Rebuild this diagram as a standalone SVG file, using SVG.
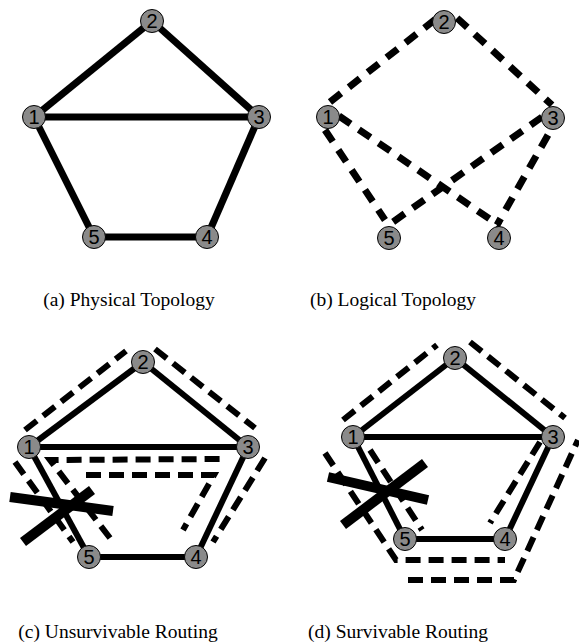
<svg xmlns="http://www.w3.org/2000/svg" width="579" height="644" viewBox="0 0 579 644">
<style>
.n circle{fill:#8a8a8a;stroke:#000;stroke-width:1}
.n text{font-family:"Liberation Sans",Arial,sans-serif;font-size:20px;fill:#000;text-anchor:middle}
.sa{stroke:#000;stroke-width:7;fill:none}
.sc{stroke:#000;stroke-width:6;fill:none}
.db{stroke:#000;stroke-width:7;fill:none;stroke-dasharray:14 10}
.dc{stroke:#000;stroke-width:6;fill:none;stroke-dasharray:15 8}
.x{stroke:#000;stroke-width:10;fill:none}
.cap{font-family:"Liberation Serif","Times New Roman",serif;font-size:19.5px;fill:#000;text-anchor:middle}
</style>
<rect width="579" height="644" fill="#fff"/>
<g id="connectors">
<!-- (a) -->
<line class="sa" x1="34" y1="117" x2="152" y2="21"/>
<line class="sa" x1="152" y1="21" x2="259" y2="117"/>
<line class="sa" x1="34" y1="117" x2="259" y2="117"/>
<line class="sa" x1="34" y1="117" x2="94" y2="237"/>
<line class="sa" x1="259" y1="117" x2="207" y2="237"/>
<line class="sa" x1="94" y1="237" x2="207" y2="237"/>
<!-- (b) -->
<line class="db" x1="330" y1="102" x2="437" y2="18"/>
<line class="db" x1="457" y1="18" x2="552" y2="105"/>
<line class="db" x1="325" y1="130" x2="385" y2="220"/>
<line class="db" x1="339" y1="116" x2="500" y2="226"/>
<line class="db" x1="542" y1="117" x2="390" y2="224"/>
<line class="db" x1="548" y1="135" x2="497" y2="225"/>
<!-- (c) -->
<line class="sc" x1="29" y1="447" x2="143" y2="362"/>
<line class="sc" x1="143" y1="362" x2="248" y2="447"/>
<line class="sc" x1="29" y1="447" x2="248" y2="447"/>
<line class="sc" x1="29" y1="447" x2="89" y2="557"/>
<line class="sc" x1="248" y1="447" x2="196" y2="557"/>
<line class="sc" x1="89" y1="557" x2="196" y2="557"/>
<line class="dc" x1="25" y1="430" x2="126" y2="351"/>
<line class="dc" x1="155" y1="349" x2="255" y2="428"/>
<line class="dc" x1="265" y1="458" x2="213" y2="542"/>
<line class="dc" x1="15" y1="462" x2="73" y2="542"/>
<polyline class="dc" points="110,538 50,460 223,459"/>
<polyline class="dc" points="86,475 214,475 183,530"/>
<line class="x" x1="10" y1="497" x2="113" y2="511"/>
<line class="x" x1="23" y1="542" x2="92" y2="490"/>
<!-- (d) -->
<line class="sc" x1="353" y1="437" x2="455" y2="358"/>
<line class="sc" x1="455" y1="358" x2="553" y2="437"/>
<line class="sc" x1="353" y1="437" x2="553" y2="437"/>
<line class="sc" x1="353" y1="437" x2="405" y2="539"/>
<line class="sc" x1="553" y1="437" x2="505" y2="539"/>
<line class="sc" x1="405" y1="539" x2="505" y2="539"/>
<line class="dc" x1="343" y1="420" x2="437" y2="345"/>
<line class="dc" x1="470" y1="342" x2="565" y2="418"/>
<line class="dc" x1="540" y1="442" x2="490" y2="523"/>
<line class="dc" x1="370" y1="450" x2="422" y2="530"/>
<polyline class="dc" points="325,453 396,560 505,560"/>
<polyline class="dc" points="408,580 514,580 578,440"/>
<line class="x" x1="328" y1="477" x2="428" y2="500"/>
<line class="x" x1="343" y1="525" x2="425" y2="463"/>
</g>
<!-- (a) nodes -->
<g id="a1" class="n"><circle cx="34" cy="117" r="11.5"/><text x="34" y="124">1</text></g>
<g id="a2" class="n"><circle cx="152" cy="21" r="11.5"/><text x="152" y="28">2</text></g>
<g id="a3" class="n"><circle cx="259" cy="117" r="11.5"/><text x="259" y="124">3</text></g>
<g id="a4" class="n"><circle cx="207" cy="237" r="11.5"/><text x="207" y="244">4</text></g>
<g id="a5" class="n"><circle cx="94" cy="237" r="11.5"/><text x="94" y="244">5</text></g>
<!-- (b) nodes -->
<g id="b1" class="n"><circle cx="328" cy="117" r="11.5"/><text x="328" y="124">1</text></g>
<g id="b2" class="n"><circle cx="444" cy="22" r="11.5"/><text x="444" y="29">2</text></g>
<g id="b3" class="n"><circle cx="553" cy="118" r="11.5"/><text x="553" y="125">3</text></g>
<g id="b4" class="n"><circle cx="499" cy="238" r="11.5"/><text x="499" y="245">4</text></g>
<g id="b5" class="n"><circle cx="389" cy="238" r="11.5"/><text x="389" y="245">5</text></g>
<!-- (c) nodes -->
<g id="c1" class="n"><circle cx="29" cy="447" r="11.5"/><text x="29" y="454">1</text></g>
<g id="c2" class="n"><circle cx="143" cy="362" r="11.5"/><text x="143" y="369">2</text></g>
<g id="c3" class="n"><circle cx="248" cy="447" r="11.5"/><text x="248" y="454">3</text></g>
<g id="c4" class="n"><circle cx="196" cy="557" r="11.5"/><text x="196" y="564">4</text></g>
<g id="c5" class="n"><circle cx="89" cy="557" r="11.5"/><text x="89" y="564">5</text></g>
<!-- (d) nodes -->
<g id="d1" class="n"><circle cx="353" cy="437" r="11.5"/><text x="353" y="444">1</text></g>
<g id="d2" class="n"><circle cx="455" cy="358" r="11.5"/><text x="455" y="365">2</text></g>
<g id="d3" class="n"><circle cx="553" cy="437" r="11.5"/><text x="553" y="444">3</text></g>
<g id="d4" class="n"><circle cx="505" cy="539" r="11.5"/><text x="505" y="546">4</text></g>
<g id="d5" class="n"><circle cx="405" cy="539" r="11.5"/><text x="405" y="546">5</text></g>
<g id="captions">
<text class="cap" x="129" y="306">(a) Physical Topology</text>
<text class="cap" x="393" y="306">(b) Logical Topology</text>
<text class="cap" x="118" y="638">(c) Unsurvivable Routing</text>
<text class="cap" x="398" y="638">(d) Survivable Routing</text>
</g>
</svg>
